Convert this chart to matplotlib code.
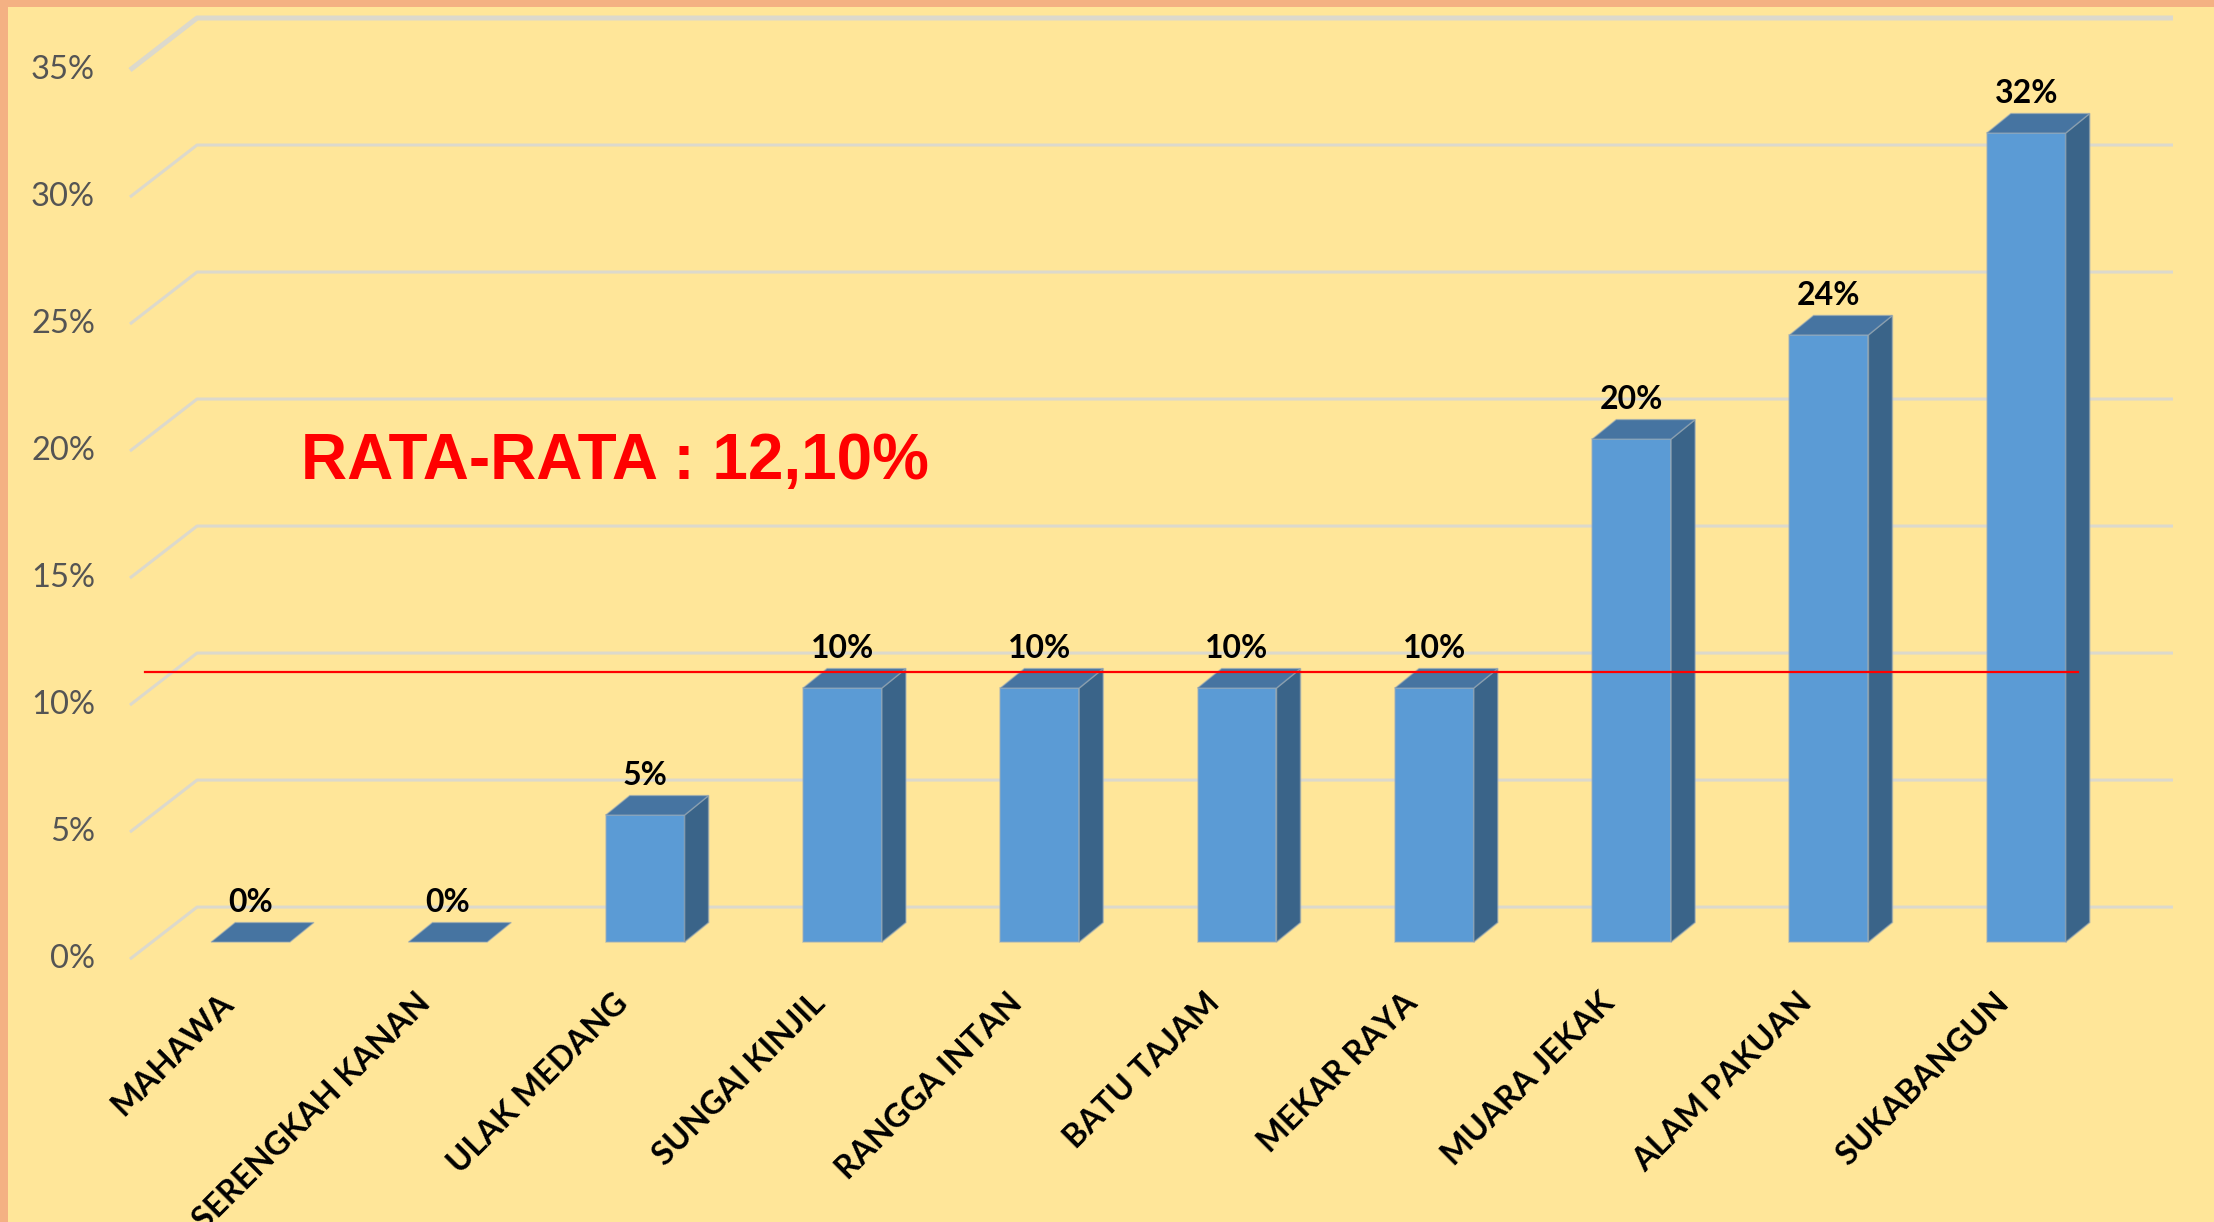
import matplotlib
matplotlib.use('Agg')
import matplotlib.pyplot as plt
from matplotlib.patches import Polygon, Rectangle

# data
desa = ['MAHAWA', 'SERENGKAH KANAN', 'ULAK MEDANG', 'SUNGAI KINJIL', 'RANGGA INTAN',
        'BATU TAJAM', 'MEKAR RAYA', 'MUARA JEKAK', 'ALAM PAKUAN', 'SUKABANGUN']
persen = [0, 0, 5, 10, 10, 10, 10, 19.8, 23.9, 31.85]
y_ticks = [0, 5, 10, 15, 20, 25, 30, 35]
rata_text = 'RATA-RATA : 12,10%'
rata_line = 10.63   # where the red line sits on the chart

# colours
BG = '#FFE699'
FRAME = '#F4B183'
FRONT = '#5B9BD5'
TOP = '#4674A1'
SIDE = '#3A6489'
GRID = '#DCD9CC'

# pseudo-3D geometry (data units)
W = 0.40          # bar width
DX, DY = 0.122, 0.77   # bar depth offset
WALL_DY = 1.378   # back wall shift upward
WALL_X0, WALL_X1 = -0.271, 9.744
SLANT_X = -0.611
SLANT_DY = 2.047

fig = plt.figure(figsize=(22.14, 12.22), dpi=100)
fig.patch.set_facecolor(BG)
ax = fig.add_axes([0, 0, 1, 1])
ax.set_facecolor(BG)
ax.set_xlim(-1.2697, 9.9518)
ax.set_ylim(-11.02, 37.087)
ax.axis('off')

# back wall gridlines with slanted floor/side edge
for v in y_ticks:
    yw = v + WALL_DY
    lw = 3.6 if v == y_ticks[-1] else 2.2
    ax.plot([SLANT_X, WALL_X0, WALL_X1], [yw - SLANT_DY, yw, yw],
            color=GRID, lw=lw, solid_capstyle='butt', zorder=1)
    ax.text(-0.788, yw - SLANT_DY, f'{v}%', ha='right', va='center',
            fontsize=23.5, color='#545454', family='Lato')

# bars: front face through ax.bar, then top and side faces
x = list(range(len(desa)))
edge = (0.62, 0.68, 0.72, 0.55)
for i, v in enumerate(persen):
    x0 = i - W / 2
    if v > 0:
        ax.bar(i, v, width=W, color=FRONT, edgecolor=edge, linewidth=1.2, zorder=3)
        side = [(x0 + W, 0), (x0 + W, v), (x0 + W + DX, v + DY), (x0 + W + DX, DY)]
        ax.add_patch(Polygon(side, closed=True, facecolor=SIDE,
                             edgecolor=edge, lw=1.2, zorder=3))
    top = [(x0, v), (x0 + W, v), (x0 + W + DX, v + DY), (x0 + DX, v + DY)]
    ax.add_patch(Polygon(top, closed=True, facecolor=TOP,
                         edgecolor=edge, lw=1.0, zorder=3))
    ax.text(i, v + 1.18, f'{v:.0f}%', ha='center', va='baseline',
            fontsize=23, fontweight='bold', color='black', family='Lato', zorder=5)

# category labels
for i, name in zip(x, desa):
    ax.text(i - 0.06, -1.8, name, rotation=45, ha='right', va='top',
            fontsize=23.5, fontweight='bold', color='black', family='Lato')

# average line and text
ax.plot([-0.535, 9.263], [rata_line, rata_line], color='#FF0000', lw=1.6, zorder=10)
ax.text(0.256, 18.23, rata_text, ha='left', va='baseline', fontsize=46,
        fontweight='bold', color='#FF0000', family='Liberation Sans')

# frame strips on top and left edges
fig.patches.append(Rectangle((0, 1 - 7 / 1222), 1, 7 / 1222, transform=fig.transFigure,
                             facecolor=FRAME, edgecolor='none', zorder=20))
fig.patches.append(Rectangle((0, 0), 8 / 2214, 1, transform=fig.transFigure,
                             facecolor=FRAME, edgecolor='none', zorder=20))

fig.savefig('out.png', dpi=100, facecolor=BG)
